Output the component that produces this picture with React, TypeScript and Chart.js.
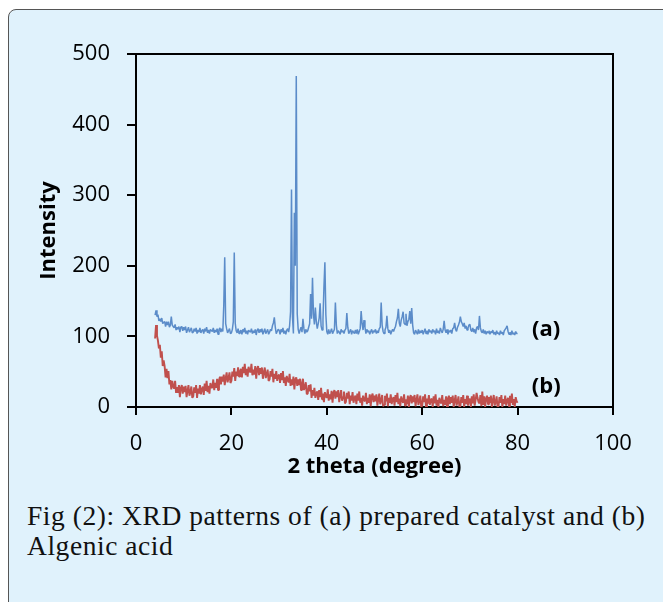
import { useEffect, useRef } from 'react';
import { Chart, registerables } from 'chart.js';
Chart.register(...registerables);

// 2θ scan grid: start and step of the recorded scan (degrees)
const scanStart = 4;
const scanStep = 0.2;

// (a) prepared catalyst, intensity per scan step (4.0° … 80.0°)
const patternA = [
  130, 137, 128, 131, 122, 125, 121, 126, 118, 120,
  121, 114, 121, 116, 121, 113, 116, 128, 116, 114,
  112, 117, 109, 113, 110, 114, 106, 113, 114, 108,
  113, 109, 114, 105, 109, 113, 106, 109, 112, 105,
  106, 111, 107, 112, 104, 109, 106, 112, 105, 108,
  110, 104, 111, 107, 113, 105, 109, 104, 110, 108,
  107, 112, 105, 109, 106, 111, 103, 110, 112, 106,
  111, 107, 144, 212, 118, 111, 105, 108, 111, 104,
  105, 110, 121, 219, 119, 108, 105, 111, 104, 107,
  109, 103, 110, 106, 112, 104, 108, 103, 109, 107,
  106, 111, 104, 108, 105, 110, 102, 109, 111, 105,
  110, 106, 111, 103, 107, 111, 104, 107, 110, 103,
  106, 110, 108, 115, 119, 127, 113, 104, 107, 110,
  109, 103, 110, 106, 112, 104, 108, 103, 109, 111,
  106, 115, 135, 308, 128, 104, 275, 200, 469, 132,
  110, 104, 109, 113, 106, 125, 111, 104, 110, 106,
  108, 113, 118, 160, 125, 183, 132, 117, 141, 121,
  111, 118, 126, 147, 115, 109, 124, 170, 205, 131,
  107, 103, 110, 104, 107, 111, 104, 107, 110, 148,
  116, 104, 108, 106, 103, 110, 106, 108, 104, 109,
  111, 133, 113, 104, 107, 110, 103, 108, 106, 104,
  109, 104, 110, 103, 107, 111, 136, 118, 109, 123,
  113, 104, 110, 106, 108, 103, 107, 110, 104, 108,
  106, 110, 104, 108, 105, 111, 113, 148, 116, 107,
  104, 109, 113, 129, 111, 105, 109, 103, 107, 110,
  107, 111, 114, 121, 126, 139, 119, 114, 123, 128,
  135, 119, 117, 132, 115, 121, 124, 136, 118, 140,
  116, 105, 103, 109, 106, 103, 110, 104, 108, 105,
  109, 103, 107, 111, 104, 108, 103, 110, 106, 108,
  104, 110, 106, 108, 103, 111, 105, 108, 104, 112,
  108, 105, 110, 122, 109, 105, 110, 103, 108, 106,
  109, 104, 111, 112, 119, 110, 107, 113, 116, 120,
  128, 121, 118, 114, 119, 111, 115, 109, 112, 116,
  117, 109, 107, 112, 106, 110, 104, 112, 114, 109,
  129, 112, 107, 105, 110, 104, 108, 103, 107, 105,
  108, 103, 107, 105, 109, 103, 106, 102, 108, 104,
  105, 102, 108, 104, 106, 102, 108, 110, 112, 115,
  107, 103, 106, 102, 108, 103, 105, 102, 107, 104,
  104,
];

// (b) Algenic acid, intensity per scan step (4.0° … 80.0°)
const patternB = [
  97, 116, 101, 94, 83, 88, 70, 79, 58, 66,
  58, 42, 54, 41, 51, 32, 38, 25, 37, 29,
  26, 37, 20, 28, 20, 31, 14, 27, 31, 19,
  29, 21, 30, 14, 23, 31, 16, 21, 29, 13,
  15, 28, 20, 31, 13, 26, 19, 31, 18, 25,
  29, 17, 33, 23, 37, 21, 30, 19, 34, 28,
  27, 39, 24, 34, 27, 40, 24, 38, 43, 32,
  43, 36, 46, 31, 41, 49, 35, 41, 49, 34,
  37, 50, 43, 55, 37, 50, 44, 56, 43, 50,
  54, 42, 57, 48, 61, 45, 54, 43, 57, 51,
  49, 61, 45, 53, 46, 58, 40, 54, 58, 45,
  55, 47, 56, 40, 49, 56, 41, 46, 53, 37,
  39, 51, 43, 54, 35, 47, 40, 51, 37, 44,
  46, 34, 48, 38, 51, 34, 42, 30, 44, 38,
  35, 47, 30, 39, 31, 43, 25, 39, 42, 30,
  39, 31, 40, 24, 32, 40, 24, 28, 35, 18,
  19, 31, 22, 32, 13, 24, 16, 27, 13, 19,
  22, 10, 24, 14, 27, 11, 19, 7, 21, 15,
  13, 25, 9, 18, 11, 23, 6, 20, 24, 12,
  22, 14, 24, 7, 16, 24, 9, 14, 22, 5,
  7, 20, 12, 22, 4, 16, 9, 21, 6, 13,
  16, 4, 19, 9, 22, 6, 13, 2, 16, 10,
  8, 20, 4, 13, 6, 18, 1, 15, 19, 7,
  16, 8, 18, 2, 11, 19, 4, 9, 17, 1,
  3, 16, 8, 19, 1, 13, 6, 18, 4, 11,
  14, 2, 17, 7, 20, 4, 12, 1, 15, 9,
  6, 18, 2, 11, 4, 16, 0, 13, 17, 5,
  15, 7, 17, 1, 10, 18, 3, 8, 16, 0,
  2, 15, 7, 18, 0, 12, 5, 17, 3, 10,
  12, 0, 15, 5, 18, 2, 10, 0, 13, 7,
  5, 17, 1, 10, 3, 15, 0, 12, 16, 4,
  14, 6, 16, 0, 9, 17, 2, 7, 15, 0,
  1, 14, 6, 17, 0, 11, 4, 16, 2, 9,
  12, 0, 15, 5, 18, 2, 10, 20, 13, 7,
  5, 17, 1, 22, 3, 15, 0, 12, 16, 4,
  14, 6, 16, 0, 9, 17, 2, 7, 15, 0,
  1, 14, 6, 17, 0, 11, 4, 16, 2, 9,
  13, 1, 16, 6, 19, 3, 11, 0, 14, 8,
  6,
];

// Series labels drawn next to the curve ends (data coordinates)
const curveLabels = ['(a)', '(b)'];
const curveLabelX = [86, 86];
const curveLabelY = [109, 28];

const xTitle = '2 theta (degree)';
const yTitle = 'Intensity';
const captionLine1 = 'Fig (2): XRD patterns of (a) prepared catalyst and (b)';
const captionLine2 = 'Algenic acid';

const SANS = '"Open Sans", "Noto Sans", sans-serif';

function toPoints(values: number[]) {
  return values.map((y, i) => ({ x: +(scanStart + i * scanStep).toFixed(2), y }));
}

export default function App() {
  const ref = useRef<HTMLCanvasElement | null>(null);

  useEffect(() => {
    document.body.style.margin = '0';
    const canvas = ref.current;
    if (!canvas) return;
    const CH = 490;

    const framePlugin = {
      id: 'frame',
      afterDatasetsDraw(chart: any) {
        const { ctx, chartArea } = chart;
        ctx.save();
        ctx.strokeStyle = '#000';
        ctx.lineWidth = 2;
        ctx.beginPath();
        ctx.moveTo(chartArea.left, chartArea.top);
        ctx.lineTo(chartArea.right, chartArea.top);
        ctx.lineTo(chartArea.right, chartArea.bottom);
        ctx.stroke();
        ctx.restore();
      },
      afterDraw(chart: any) {
        const { ctx } = chart;
        const xs = chart.scales.x;
        const ys = chart.scales.y;
        ctx.save();
        ctx.fillStyle = '#000';
        ctx.font = `bold 22px ${SANS}`;
        ctx.textAlign = 'center';
        ctx.textBaseline = 'middle';
        curveLabels.forEach((t, i) => {
          ctx.fillText(t, xs.getPixelForValue(curveLabelX[i]), ys.getPixelForValue(curveLabelY[i]));
        });
        ctx.restore();
      },
    };

    const chart = new Chart(canvas, {
      type: 'line',
      data: {
        datasets: [
          {
            label: '(a)',
            data: toPoints(patternA),
            borderColor: '#5b8cc9',
            borderWidth: 1.5,
            borderJoinStyle: 'bevel',
            pointRadius: 0,
            tension: 0,
          },
          {
            label: '(b)',
            data: toPoints(patternB),
            borderColor: '#c0504d',
            borderWidth: 1.9,
            borderJoinStyle: 'bevel',
            pointRadius: 0,
            tension: 0,
          },
        ],
      },
      options: {
        animation: false,
        responsive: false,
        events: [],
        parsing: false as any,
        normalized: true,
        layout: { padding: { left: 0, top: 54, right: 663 - 613, bottom: 0 } },
        plugins: {
          legend: { display: false },
          tooltip: { enabled: false },
        },
        scales: {
          x: {
            type: 'linear',
            min: 0,
            max: 100,
            ticks: {
              stepSize: 20,
              color: '#000',
              padding: 16,
              maxRotation: 0,
              font: { family: SANS, size: 22 },
            },
            grid: {
              drawOnChartArea: false,
              drawTicks: true,
              tickLength: 8,
              color: '#000',
              lineWidth: 2,
            },
            border: { display: true, color: '#000', width: 2 },
            title: {
              display: true,
              text: xTitle,
              color: '#000',
              font: { family: SANS, size: 22, weight: 'bold' },
              padding: { top: 0, bottom: 10 },
            },
            afterFit: (s: any) => {
              s.height = CH - 407;
            },
          },
          y: {
            type: 'linear',
            min: 0,
            max: 500,
            ticks: {
              stepSize: 100,
              color: '#000',
              padding: 17,
              font: { family: SANS, size: 22 },
            },
            grid: {
              drawOnChartArea: false,
              drawTicks: true,
              tickLength: 9,
              color: '#000',
              lineWidth: 2,
            },
            border: { display: true, color: '#000', width: 2 },
            title: {
              display: true,
              text: yTitle,
              color: '#000',
              font: { family: SANS, size: 22, weight: 'bold' },
              padding: { top: 36, bottom: 0 },
            },
            afterFit: (s: any) => {
              s.width = 136;
            },
          },
        },
      } as any,
      plugins: [framePlugin],
    });
    return () => chart.destroy();
  }, []);

  return (
    <div style={{ position: 'relative', width: 663, height: 602, overflow: 'hidden', background: '#fff' }}>
      <div
        style={{
          position: 'absolute',
          left: 8,
          top: 9,
          width: 700,
          height: 640,
          boxSizing: 'border-box',
          border: '1.5px solid #555',
          borderRadius: 8,
          background: '#e0f2fc',
        }}
      />
      <canvas ref={ref} width={663} height={490} style={{ position: 'absolute', left: 0, top: 0, width: 663, height: 490 }} />
      <div
        style={{
          position: 'absolute',
          left: 27,
          top: 501,
          fontFamily: '"Liberation Serif", "Times New Roman", serif',
          fontSize: 27.5,
          lineHeight: '30px',
          letterSpacing: '0.55px',
          color: '#111',
          whiteSpace: 'nowrap',
        }}
      >
        {captionLine1}
        <br />
        {captionLine2}
      </div>
    </div>
  );
}
